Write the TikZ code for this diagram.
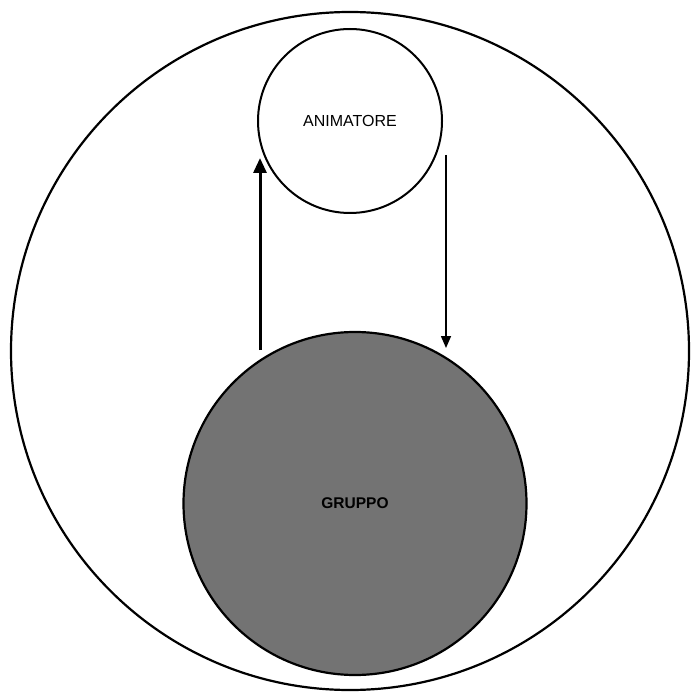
\documentclass[tikz,border=0pt]{standalone}
\usepackage{fontspec}
\setmainfont{Liberation Sans}
\usetikzlibrary{arrows.meta}
\begin{document}
\begin{tikzpicture}[x=1pt,y=-1pt,
  ring/.style={circle,draw=black,line width=2.2pt,inner sep=0pt},
  lbl/.style={font=\fontsize{16}{19}\selectfont},
  flow/.style={-{Triangle[length=15pt,width=13pt]}}]
\useasboundingbox (0,0) rectangle (692,692);
\node[ring,minimum size=678pt] (field) at (350,351) {};
\node[ring,fill=black!55,minimum size=343pt] (grp) at (355,503.5) {};
\node[lbl,font=\fontsize{15.5}{18}\selectfont\bfseries] at (355,503) (grptext) {GRUPPO};
\node[ring,minimum size=184pt,line width=2pt] (anim) at (350,121) {};
\node[lbl] at (350,121) (animtext) {ANIMATORE};
\coordinate (a1) at (260,350);
\coordinate (a2) at (260,158);
\coordinate (b1) at (446,155);
\coordinate (b2) at (446,348);
\draw[flow,line width=3pt] (a1) -- (a2);
\draw[-{Triangle[length=12pt,width=10pt]},line width=1.6pt] (b1) -- (b2);
\end{tikzpicture}
\end{document}
